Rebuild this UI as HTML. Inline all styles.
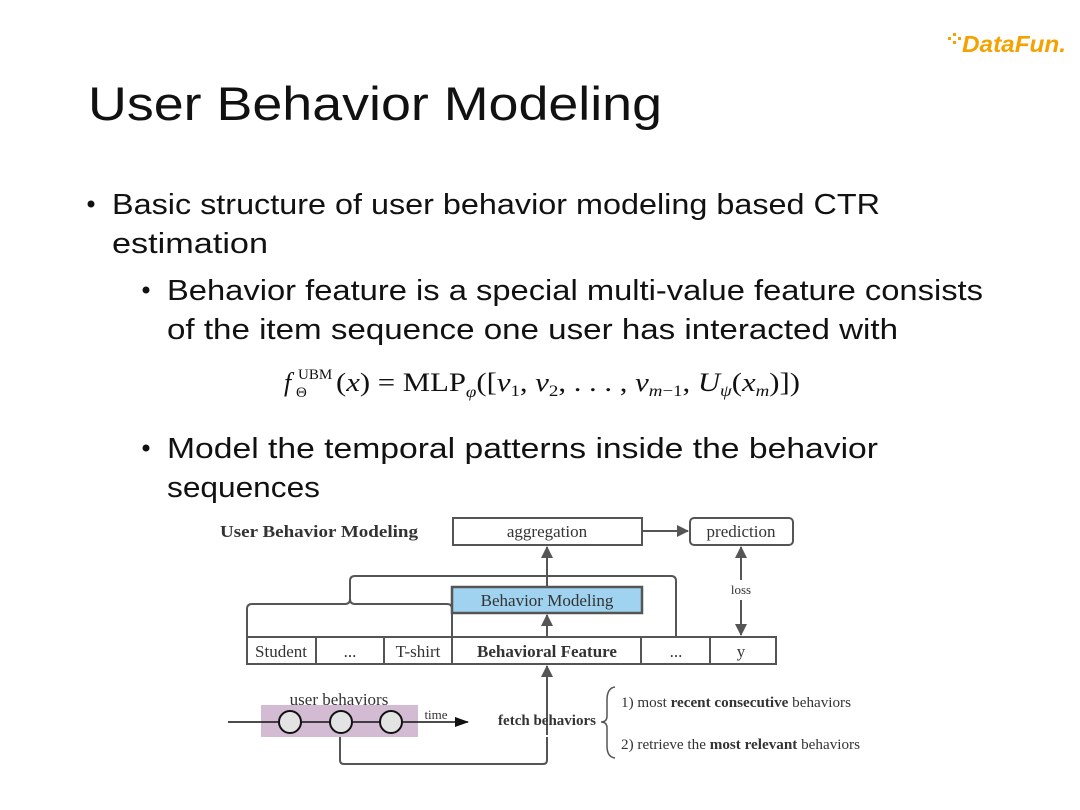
<!DOCTYPE html>
<html><head><meta charset="utf-8"><style>
html,body{margin:0;padding:0;background:#fff;}
svg{display:block}
</style></head><body>
<svg width="1080" height="810" viewBox="0 0 1080 810" xmlns="http://www.w3.org/2000/svg">
<defs>
<marker id="ah" markerWidth="12" markerHeight="12" refX="11" refY="6" orient="auto" markerUnits="userSpaceOnUse">
<path d="M0,0 L12,6 L0,12 z" fill="#555"/></marker>
<marker id="ahb" markerWidth="14" markerHeight="10" refX="13" refY="5" orient="auto" markerUnits="userSpaceOnUse">
<path d="M0,0 L14,5 L0,10 z" fill="#111"/></marker>
</defs>
<!-- logo -->
<g font-family="Liberation Sans, sans-serif" font-weight="bold" font-style="italic" fill="#f5a100">
<rect x="948" y="37" width="3" height="3"/><rect x="953" y="33" width="3" height="3"/><rect x="953" y="41" width="3" height="3"/><rect x="958" y="37" width="3" height="3"/>
<text x="962" y="52" font-size="23" textLength="104" lengthAdjust="spacingAndGlyphs">DataFun.</text>
</g>
<g font-family="Liberation Sans, sans-serif" fill="#111">
<text x="88" y="120" font-size="47" textLength="574" lengthAdjust="spacingAndGlyphs" font-weight="300">User Behavior Modeling</text>
<circle cx="91" cy="204" r="3.5"/>
<text x="112" y="214" font-size="29" textLength="768" lengthAdjust="spacingAndGlyphs">Basic structure of user behavior modeling based CTR</text>
<text x="112" y="253" font-size="29" textLength="156" lengthAdjust="spacingAndGlyphs">estimation</text>
<circle cx="146" cy="290" r="3.5"/>
<text x="167" y="300" font-size="29" textLength="816" lengthAdjust="spacingAndGlyphs">Behavior feature is a special multi-value feature consists</text>
<text x="167" y="339" font-size="29" textLength="731" lengthAdjust="spacingAndGlyphs">of the item sequence one user has interacted with</text>
<circle cx="146" cy="448" r="3.5"/>
<text x="167" y="458" font-size="29" textLength="711" lengthAdjust="spacingAndGlyphs">Model the temporal patterns inside the behavior</text>
<text x="167" y="497" font-size="29" textLength="153" lengthAdjust="spacingAndGlyphs">sequences</text>
</g>
<!-- formula -->
<g font-family="Liberation Serif, serif" fill="#111" font-size="26">
<text x="284" y="391" font-style="italic">f</text>
<text x="298" y="379" font-size="15">UBM</text>
<text x="296" y="397" font-size="15">Θ</text>
<text x="336" y="391" textLength="464" lengthAdjust="spacingAndGlyphs">(<tspan font-style="italic">x</tspan>) = MLP<tspan font-size="16" dy="6" font-style="italic">φ</tspan><tspan dy="-6">([</tspan><tspan font-style="italic">v</tspan><tspan font-size="16" dy="5">1</tspan><tspan dy="-5">, </tspan><tspan font-style="italic">v</tspan><tspan font-size="16" dy="5">2</tspan><tspan dy="-5">, . . . , </tspan><tspan font-style="italic">v</tspan><tspan font-size="16" dy="5" font-style="italic">m</tspan><tspan font-size="16">−1</tspan><tspan dy="-5">, </tspan><tspan font-style="italic">U</tspan><tspan font-size="16" dy="5" font-style="italic">ψ</tspan><tspan dy="-5">(</tspan><tspan font-style="italic">x</tspan><tspan font-size="16" dy="5" font-style="italic">m</tspan><tspan dy="-5">)])</tspan></text>
</g>
<!-- diagram -->
<g font-family="Liberation Serif, serif" fill="#333" stroke="none">
<text x="220" y="537" font-size="17" font-weight="bold" textLength="198" lengthAdjust="spacingAndGlyphs">User Behavior Modeling</text>
</g>
<g stroke="#555" stroke-width="2" fill="none">
<rect x="453" y="518" width="189" height="27" fill="#fff"/>
<rect x="690" y="518" width="103" height="27" rx="4" fill="#fff"/>
<rect x="452" y="587" width="190" height="26" fill="#9fd3ef" stroke-width="2.5"/>
<rect x="247" y="637" width="529" height="27" fill="#fff"/>
<line x1="316" y1="637" x2="316" y2="664"/><line x1="384" y1="637" x2="384" y2="664"/>
<line x1="452" y1="637" x2="452" y2="664"/><line x1="641" y1="637" x2="641" y2="664"/>
<line x1="710" y1="637" x2="710" y2="664"/>
<line x1="642" y1="531" x2="688" y2="531" marker-end="url(#ah)"/>
<line x1="547" y1="587" x2="547" y2="547" marker-end="url(#ah)"/>
<line x1="547" y1="637" x2="547" y2="615" marker-end="url(#ah)"/>
<line x1="547" y1="735" x2="547" y2="666" marker-end="url(#ah)"/>
<line x1="741" y1="580" x2="741" y2="547" marker-end="url(#ah)"/>
<line x1="741" y1="600" x2="741" y2="635" marker-end="url(#ah)"/>
<path d="M676,637 V581 Q676,576 671,576 H355 Q350,576 350,581 V599 Q350,604 345,604 H252 Q247,604 247,609 V637"/>
<path d="M350,599 Q350,604 355,604 H447 Q452,604 452,609 V637"/>
<path d="M547,737 V760 Q547,764 543,764 H344 Q340,764 340,760 V737"/>
<path d="M615,687 Q607,688 607,700 V716 Q607,722 601,722 Q607,722 607,728 V746 Q607,757 615,758" stroke-width="1.5"/>
</g>
<rect x="261" y="705" width="157" height="32" fill="#d3bcd3"/>
<line x1="228" y1="722" x2="468" y2="722" stroke="#111" stroke-width="1.5" marker-end="url(#ahb)"/>
<g stroke="#111" stroke-width="2" fill="#e3e3e3">
<circle cx="290" cy="722" r="11"/><circle cx="341" cy="722" r="11"/><circle cx="391" cy="722" r="11"/>
</g>
<g font-family="Liberation Serif, serif" fill="#333" font-size="17" text-anchor="middle">
<text x="547" y="537">aggregation</text>
<text x="741" y="537">prediction</text>
<text x="547" y="606" fill="#333">Behavior Modeling</text>
<text x="281" y="657">Student</text>
<text x="350" y="657">...</text>
<text x="418" y="657">T-shirt</text>
<text x="547" y="657" font-weight="bold">Behavioral Feature</text>
<text x="676" y="657">...</text>
<text x="741" y="657">y</text>
<text x="741" y="594" font-size="13">loss</text>
<text x="339" y="705" font-size="17">user behaviors</text>
<text x="436" y="719" font-size="13">time</text>
<text x="547" y="725" font-size="15" font-weight="bold">fetch behaviors</text>
</g>
<g font-family="Liberation Serif, serif" fill="#333" font-size="14.5">
<text x="621" y="707" textLength="230" lengthAdjust="spacingAndGlyphs">1) most <tspan font-weight="bold">recent consecutive</tspan> behaviors</text>
<text x="621" y="749" textLength="239" lengthAdjust="spacingAndGlyphs">2) retrieve the <tspan font-weight="bold">most relevant</tspan> behaviors</text>
</g>
</svg>
</body></html>
